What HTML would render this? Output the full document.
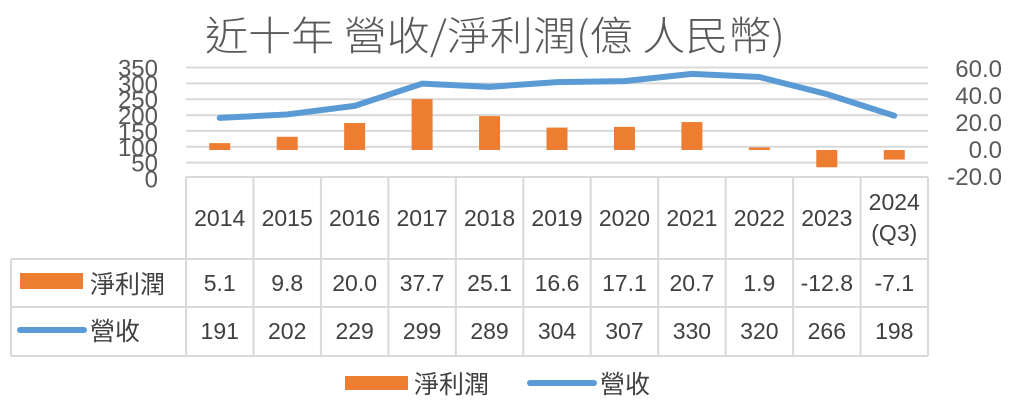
<!DOCTYPE html>
<html><head><meta charset="utf-8"><style>
html,body{margin:0;padding:0;background:#fff;}
svg{display:block;font-family:"Liberation Sans","Noto Sans CJK TC",sans-serif;}
</style></head><body>
<svg id="chart" width="1024" height="404" viewBox="0 0 1024 404">
<text x="205" y="50" font-size="40" fill="#595959" textLength="580" lengthAdjust="spacingAndGlyphs" font-family="Noto Sans CJK TC, sans-serif" font-weight="300">近十年 營收/淨利潤(億 人民幣)</text>
<g id="grid"></g><g id="bars"></g><g id="line"></g><g id="laxis"></g><g id="raxis"></g><g id="table"></g>
<g>
<rect x="345" y="376" width="63" height="14" fill="#ed7d31"/>
<text x="414" y="393" font-size="25" fill="#404040" font-family="Noto Sans CJK TC, sans-serif">淨利潤</text>
<line x1="530" y1="383" x2="594" y2="383" stroke="#5b9bd5" stroke-width="6" stroke-linecap="round"/>
<text x="600" y="393" font-size="25" fill="#404040" font-family="Noto Sans CJK TC, sans-serif">營收</text>
</g>
</svg>
<script>
const categories=["2014","2015","2016","2017","2018","2019","2020","2021","2022","2023","2024"];
const profit=[5.1,9.8,20.0,37.7,25.1,16.6,17.1,20.7,1.9,-12.8,-7.1];
const revenue=[191,202,229,299,289,304,307,330,320,266,198];
const profitLabels=["5.1","9.8","20.0","37.7","25.1","16.6","17.1","20.7","1.9","-12.8","-7.1"];
const leftTicks=[0,50,100,150,200,250,300,350];
const rightTicks=[-20,0,20,40,60];
const NS="http://www.w3.org/2000/svg";
const x0=186,x1=928,cw=(x1-x0)/categories.length;
const yL=v=>178.5-(v/350)*111;
const yR=v=>150-v*1.35;
const cx=i=>x0+cw*(i+0.5);
function mk(p,t,a){const e=document.createElementNS(NS,t);for(const k in a)e.setAttribute(k,a[k]);p.appendChild(e);return e;}
const grid=document.getElementById('grid');
leftTicks.filter(v=>v>0).forEach(v=>{const l=mk(grid,'line',{x1:x0,x2:x1,y1:yL(v),y2:yL(v),stroke:'#d9d9d9','stroke-width':2});

});
const bars=document.getElementById('bars');
profit.forEach((v,i)=>{const y=Math.min(yR(v),yR(0));const r=mk(bars,'rect',{x:cx(i)-10.5,y:y,width:21,height:Math.abs(yR(v)-yR(0)),fill:'#ed7d31'});

});
const pl=mk(document.getElementById('line'),'polyline',{points:revenue.map((v,i)=>cx(i)+','+yL(v)).join(' '),fill:'none',stroke:'#5b9bd5','stroke-width':6,'stroke-linecap':'round','stroke-linejoin':'round'});


const la=document.getElementById('laxis');
leftTicks.forEach(v=>{const t=mk(la,'text',{x:158,y:yL(v)+9,'font-size':24,fill:'#595959','text-anchor':'end'});t.textContent=v;

});
const ra=document.getElementById('raxis');
rightTicks.forEach(v=>{const t=mk(ra,'text',{x:1002,y:yR(v)+8,'font-size':24,fill:'#595959','text-anchor':'end'});t.textContent=v.toFixed(1);

});
const tb=document.getElementById('table');
const st={stroke:'#d9d9d9','stroke-width':2};
const tl=(a,b,c,d)=>{const l=mk(tb,'line',Object.assign({x1:a,y1:b,x2:c,y2:d},st));};
tl(x0,177,x1,177);tl(11,259,x1,259);tl(11,307,x1,307);tl(11,356,x1,356);tl(11,259,11,356);
for(let i=0;i<=categories.length;i++)tl(x0+cw*i,177,x0+cw*i,356);
categories.forEach((c,i)=>{
 if(c==="2024"){const t=mk(tb,'text',{x:cx(i),y:210,'font-size':23,fill:'#404040','text-anchor':'middle'});t.textContent="2024";
  const t2=mk(tb,'text',{x:cx(i),y:241,'font-size':23,fill:'#404040','text-anchor':'middle'});t2.textContent="(Q3)";}
 else{const t=mk(tb,'text',{x:cx(i),y:226,'font-size':23,fill:'#404040','text-anchor':'middle'});t.textContent=c;}
 const p=mk(tb,'text',{x:cx(i),y:291,'font-size':23,fill:'#404040','text-anchor':'middle'});p.textContent=profitLabels[i];
 
 
 const r=mk(tb,'text',{x:cx(i),y:339,'font-size':23,fill:'#404040','text-anchor':'middle'});r.textContent=revenue[i];
 
 
});
const sw=mk(tb,'rect',{x:20,y:273,width:63,height:16,fill:'#ed7d31'});


const t1=mk(tb,'text',{x:90,y:293,'font-size':25,fill:'#404040','font-family':'Noto Sans CJK TC, sans-serif'});t1.textContent="淨利潤";


const bl=mk(tb,'line',{x1:20,y1:330,x2:84,y2:330,stroke:'#5b9bd5','stroke-width':6,'stroke-linecap':'round'});


const t3=mk(tb,'text',{x:90,y:340,'font-size':25,fill:'#404040','font-family':'Noto Sans CJK TC, sans-serif'});t3.textContent="營收";


</script>
</body></html>
